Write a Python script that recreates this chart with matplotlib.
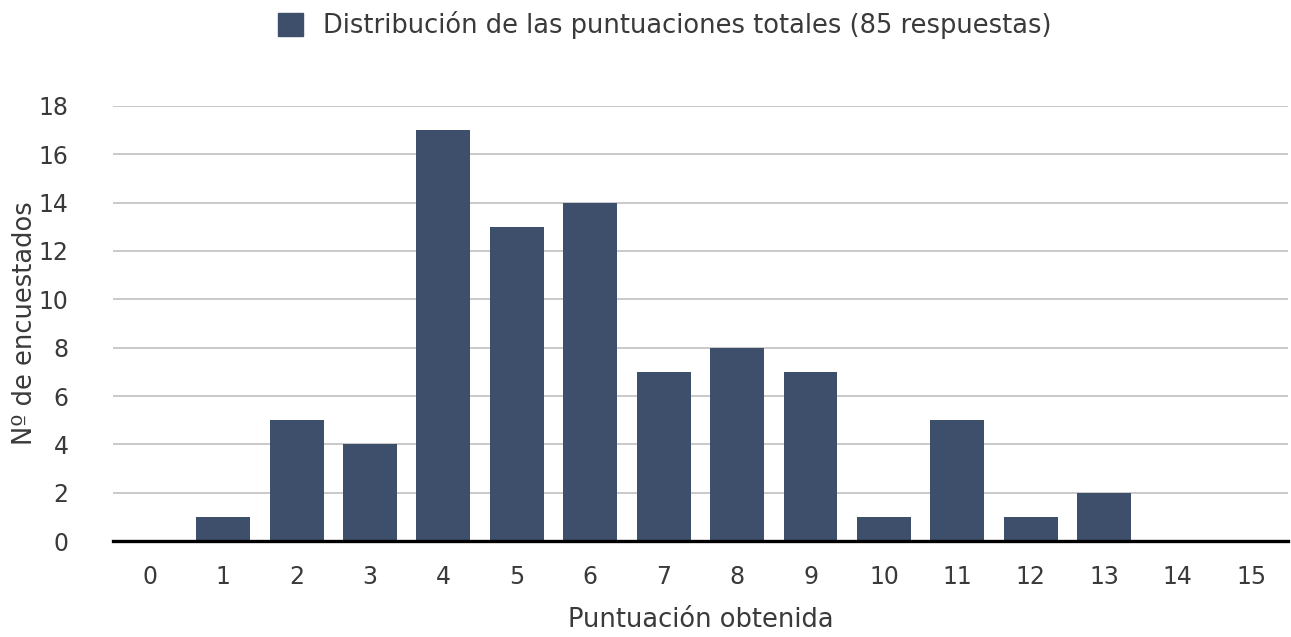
import matplotlib.pyplot as plt
from matplotlib.patches import Patch

puntuaciones = list(range(16))
encuestados = [0, 1, 5, 4, 17, 13, 14, 7, 8, 7, 1, 5, 1, 2, 0, 0]
yticks = [0, 2, 4, 6, 8, 10, 12, 14, 16, 18]

plt.rcParams['font.family'] = ['DejaVu Sans']
color_barra = '#3d4f6b'
color_texto = '#3a3a3a'

fig = plt.figure(figsize=(12.91, 6.37), dpi=100)
ax = fig.add_axes([0.0875, 0.1507, 0.91, 0.6829])

ax.bar(puntuaciones, encuestados, width=0.735, color=color_barra, zorder=3)

ax.set_xlim(-0.5, 15.5)
ax.set_ylim(0, 18)
ax.set_yticks(yticks)
ax.set_xticks(puntuaciones)
ax.grid(axis='y', color='#c0c0c0', linewidth=1.2, zorder=0)
for s in ['top', 'right', 'left']:
    ax.spines[s].set_visible(False)
ax.spines['bottom'].set_color('black')
ax.spines['bottom'].set_linewidth(2.4)
ax.spines['bottom'].set_zorder(4)
ax.tick_params(length=0, labelsize=17, labelcolor=color_texto, pad=17)
ax.tick_params(axis='y', pad=32)

ax.set_xlabel('Puntuación obtenida', fontsize=18.5, color=color_texto, labelpad=13)
ax.set_ylabel('Nº de encuestados', fontsize=18.5, color=color_texto)
ax.yaxis.set_label_coords(-0.064, 0.5)

handle = Patch(color=color_barra, label='Distribución de las puntuaciones totales (85 respuestas)')
fig.legend(handles=[handle], loc='center', bbox_to_anchor=(0.515, 0.96), frameon=False,
           fontsize=18.5, labelcolor=color_texto, handlelength=0.95, handleheight=1.0,
           handletextpad=0.8)

fig.savefig('out.png', dpi=100)
